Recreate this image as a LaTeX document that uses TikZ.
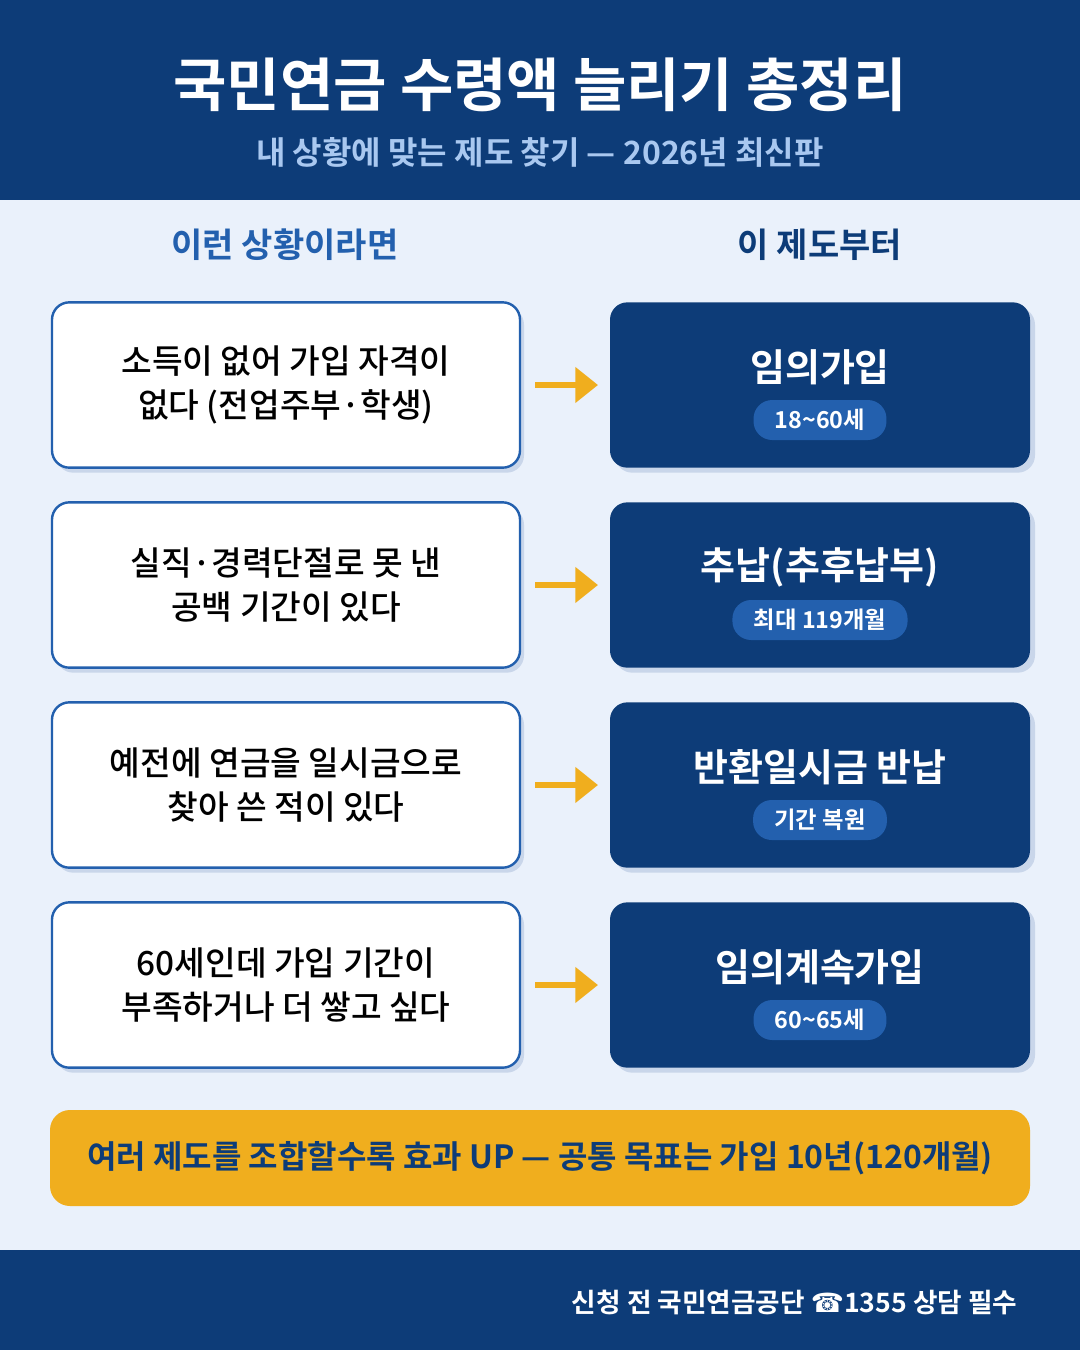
\documentclass[tikz,border=0pt]{standalone}
\usepackage{fontspec}
\setmainfont{Noto Sans CJK KR}[BoldFont={Noto Sans CJK KR Bold}]
\newfontfamily\med{Noto Sans CJK KR Medium}
\newfontfamily\sym{DejaVu Sans}
\definecolor{navy}{HTML}{0D3C78}
\definecolor{bodybg}{HTML}{EAF1FB}
\definecolor{mblue}{HTML}{2360AE}
\definecolor{sub}{HTML}{A9C8F0}
\definecolor{org}{HTML}{F0AE1E}
\definecolor{shad}{HTML}{C9D6EA}
\begin{document}
\begin{tikzpicture}[x=0.75pt,y=-0.75pt,
 lbox/.style={draw=mblue,line width=1.8pt,fill=white,rounded corners=13pt,minimum width=351pt,minimum height=124pt,align=center,font=\med\fontsize{25}{33}\selectfont,text=black},
 rbox/.style={fill=navy,rounded corners=13pt,minimum width=315pt,minimum height=124pt},
 sh/.style={fill=shad,rounded corners=13pt,minimum width=351pt,minimum height=124pt},
 rtitle/.style={text=white,font=\bfseries\fontsize{28.5}{30}\selectfont},
 pill/.style={fill=mblue,rounded corners=14pt,minimum height=30pt,inner xsep=16pt,text=white,font=\bfseries\fontsize{17.5}{18}\selectfont},
 arr/.style={draw=org,line width=4pt,-{Triangle[length=17pt,width=26pt]}}]
\usetikzlibrary{arrows.meta}
\fill[bodybg] (0,0) rectangle (1080,1350);
\fill[navy] (0,0) rectangle (1080,200);
\fill[navy] (0,1250) rectangle (1080,1350);
\node[text=white,font=\bfseries\fontsize{43.5}{44}\selectfont] (title) at (540,85) {국민연금 수령액 늘리기 총정리};
\node[text=sub,font=\bfseries\fontsize{24}{24}\selectfont] (subt) at (540,152) {내 상황에 맞는 제도 찾기 — 2026년 최신판};
\node[text=mblue,font=\bfseries\fontsize{25.5}{26}\selectfont] (h1) at (285,245) {이런 상황이라면};
\node[text=navy,font=\bfseries\fontsize{25.5}{26}\selectfont] (h2) at (820,245) {이 제도부터};
\foreach \i/\lt/\rt/\pt in {0/{소득이 없어 가입 자격이\\없다 (전업주부·학생)}/임의가입/18\textasciitilde60세,
 1/{실직·경력단절로 못 낸\\공백 기간이 있다}/추납(추후납부)/최대 119개월,
 2/{예전에 연금을 일시금으로\\찾아 쓴 적이 있다}/반환일시금 반납/기간 복원,
 3/{60세인데 가입 기간이\\부족하거나 더 쌓고 싶다}/임의계속가입/60\textasciitilde65세}{
 \pgfmathsetmacro\yy{385+200*\i}
 \node[sh] at (290,\yy+5) {};
 \node[lbox] (l\i) at (286,\yy) {\lt};
 \node[sh,minimum width=315pt] at (825,\yy+5) {};
 \node[rbox] (r\i) at (820,\yy) {};
 \node[rtitle] (rt\i) at (820,\yy-18) {\rt};
 \node[pill] (p\i) at (820,\yy+35) {\pt};
 \coordinate (a\i) at (535,\yy);
 \coordinate (b\i) at (598,\yy);
 \draw[arr] (a\i) -- (b\i);
}
\node[fill=org,rounded corners=15pt,minimum width=735pt,minimum height=72pt,text=navy,font=\bfseries\fontsize{24}{24}\selectfont] (bar) at (540,1158) {여러 제도를 조합할수록 효과 UP — 공통 목표는 가입 10년(120개월)};
\node[anchor=east,text=white,font=\bfseries\fontsize{20}{20}\selectfont] (foot) at (1022,1302) {신청 전 국민연금공단 {\sym ☎}1355 상담 필수};
\end{tikzpicture}
\end{document}
